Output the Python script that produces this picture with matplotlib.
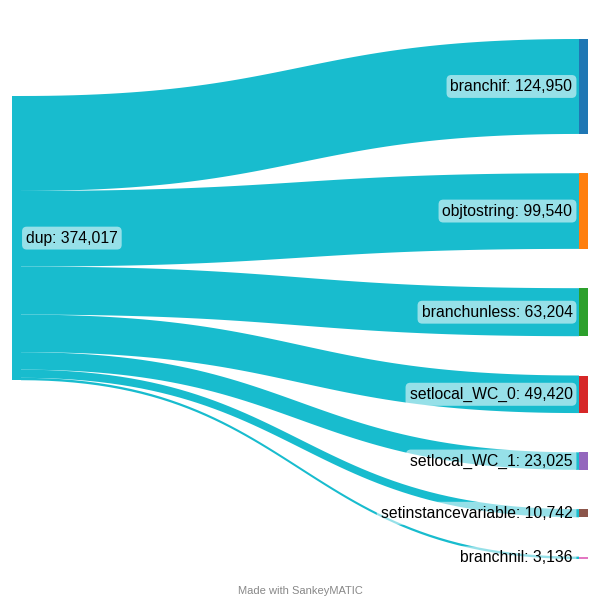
import numpy as np
import matplotlib
matplotlib.use("Agg")
import matplotlib.pyplot as plt
from matplotlib.patches import Polygon, Rectangle

plt.rcParams["font.family"] = ["Liberation Sans", "DejaVu Sans"]

SOURCE = "dup"
TARGETS = ["branchif", "objtostring", "branchunless", "setlocal_WC_0",
           "setlocal_WC_1", "setinstancevariable", "branchnil"]
VALUES = [124950, 99540, 63204, 49420, 23025, 10742, 3136]
NODE_COLORS = ["#1f77b4", "#ff7f0e", "#2ca02c", "#d62728",
               "#9467bd", "#8c564b", "#e377c2"]
FLOW_COLOR = "#18bcce"

# layout in pixel space (600x600 canvas)
W, H = 600, 600
NODE_W = 9
X_LEFT, X_RIGHT = 12, 579
TOP, BOTTOM = 39, 559
SRC_TOP = 96

total = sum(VALUES)
gap = 39.3
scale = (BOTTOM - TOP - gap * (len(VALUES) - 1)) / total


def fmt(v):
    return f"{v:,}"


def bez(x0, x1, y0, y1, n=60):
    t = np.linspace(0, 1, n)
    xm = (x0 + x1) / 2
    x = (1 - t) ** 3 * x0 + 3 * (1 - t) ** 2 * t * xm + 3 * (1 - t) * t ** 2 * xm + t ** 3 * x1
    y = (1 - t) ** 3 * y0 + 3 * (1 - t) ** 2 * t * y0 + 3 * (1 - t) * t ** 2 * y1 + t ** 3 * y1
    return x, y


fig = plt.figure(figsize=(6, 6), dpi=100)
ax = fig.add_axes([0, 0, 1, 1])
ax.set_xlim(0, W)
ax.set_ylim(H, 0)
ax.axis("off")

box = dict(boxstyle="round,pad=0.25,rounding_size=0.3", facecolor="white",
           alpha=0.55, edgecolor="none")

# flows
sy = SRC_TOP
ty = TOP
tgt_pos = []
for v in VALUES:
    h = v * scale
    xa, ya = bez(X_LEFT + NODE_W, X_RIGHT, sy, ty)
    xb, yb = bez(X_LEFT + NODE_W, X_RIGHT, sy + h, ty + h)
    pts = np.vstack([np.column_stack([xa, ya]), np.column_stack([xb, yb])[::-1]])
    ax.add_patch(Polygon(pts, closed=True, facecolor=FLOW_COLOR, edgecolor="none",
                         zorder=1))
    tgt_pos.append((ty, h))
    sy += h
    ty += h + gap

# source node
ax.add_patch(Rectangle((X_LEFT, SRC_TOP), NODE_W, total * scale,
                       facecolor=FLOW_COLOR, edgecolor="none", zorder=2))
ax.text(X_LEFT + 14, SRC_TOP + total * scale / 2, f"{SOURCE}: {fmt(total)}",
        ha="left", va="center", fontsize=11.35, color="black", bbox=box, zorder=4)

# target nodes + labels
for name, v, c, (y, h) in zip(TARGETS, VALUES, NODE_COLORS, tgt_pos):
    ax.add_patch(Rectangle((X_RIGHT, y), NODE_W, h, facecolor=c,
                           edgecolor="none", zorder=2))
    ax.text(X_RIGHT - 6.5, y + h / 2, f"{name}: {fmt(v)}", ha="right", va="center",
            fontsize=11.35, color="black", bbox=box, zorder=4)

ax.text(W / 2, 591, "Made with SankeyMATIC", ha="center", va="center",
        fontsize=8, color="#888888")

fig.savefig("out.png", dpi=100)
